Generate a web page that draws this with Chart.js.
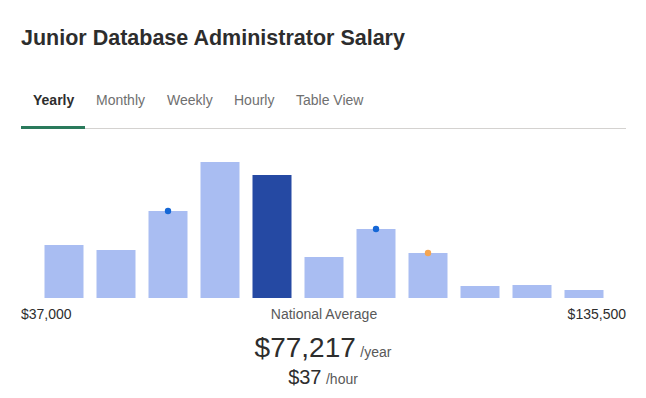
<!DOCTYPE html>
<html>
<head>
<meta charset="utf-8">
<script src="https://cdn.jsdelivr.net/npm/chart.js@4/dist/chart.umd.min.js"></script>
<style>
  body { margin: 0; background: #fff; font-family: "Liberation Sans", Arial, sans-serif; color: #2d2d2d; }
  .abs { position: absolute; white-space: nowrap; }
  #title { left: 21px; top: 28px; font-size: 21.5px; line-height: 21.5px; font-weight: bold; }
  .tab { top: 93px; font-size: 14px; line-height: 14px; color: #6f6f6f; }
  .tab.on { color: #2d2d2d; font-weight: bold; }
  #tabline { left: 21px; top: 128px; width: 605px; height: 1px; background: #d4d2d0; }
  #tabbar { left: 21px; top: 126px; width: 64px; height: 3px; background: #2a7a5c; }
  .lbl { top: 307px; font-size: 14px; line-height: 14px; }
  #big { left: 0; width: 646px; text-align: center; top: 332px; }
  #small { left: 0; width: 646px; text-align: center; top: 366px; }
  .unit { font-size: 14px; color: #595959; }
  #chartBox { left: 38px; top: 148px; width: 572px; height: 150px; }
</style>
</head>
<body>
<div id="title" class="abs">Junior Database Administrator Salary</div>
<div class="abs tab on" style="left:33px">Yearly</div>
<div class="abs tab" style="left:96px">Monthly</div>
<div class="abs tab" style="left:167px">Weekly</div>
<div class="abs tab" style="left:234px">Hourly</div>
<div class="abs tab" style="left:296px">Table View</div>
<div id="tabline" class="abs"></div>
<div id="tabbar" class="abs"></div>

<div id="chartBox" class="abs"><canvas id="salary" width="572" height="150"></canvas></div>

<div class="abs lbl" style="left:21px;color:#2d2d2d">$37,000</div>
<div class="abs lbl" style="left:0;width:646px;text-align:center;margin-left:1px;color:#595959">National Average</div>
<div class="abs lbl" style="right:20px;color:#2d2d2d">$135,500</div>

<div id="big" class="abs"><span style="font-size:28px">$77,217</span> <span class="unit">/year</span></div>
<div id="small" class="abs"><span style="font-size:20px">$37</span> <span class="unit">/hour</span></div>

<script>
const bins = ["1", "2", "3", "4", "5", "6", "7", "8", "9", "10", "11"];
const counts = [53, 48, 87, 136, 123, 41, 69, 45, 12, 13, 8];
const highlightIndex = 4;
const markers = [null, null, 87, null, null, null, 69, 45, null, null, null];
const markerColors = ["", "", "#1567d6", "", "", "", "#1567d6", "#f5a552", "", "", ""];

var ctx = document.getElementById("salary").getContext("2d");
var chart = new Chart(ctx, {
  data: {
    labels: bins,
    datasets: [
      {
        type: "line",
        data: markers,
        showLine: false,
        pointRadius: 3.2,
        pointBorderWidth: 0,
        pointBackgroundColor: markerColors,
        order: 0,
      },
      {
        type: "bar",
        data: counts,
        backgroundColor: counts.map((v, i) => (i === highlightIndex ? "#2549a3" : "#a9bdf2")),
        categoryPercentage: 1,
        barPercentage: 0.75,
        order: 1,
      },
    ],
  },
  options: {
    responsive: false,
    animation: false,
    layout: { padding: 0, autoPadding: false },
    plugins: { legend: { display: false }, tooltip: { enabled: false } },
    scales: {
      x: { display: false },
      y: { display: false, min: 0, max: 150 },
    },
  },
});
</script>
</body>
</html>
